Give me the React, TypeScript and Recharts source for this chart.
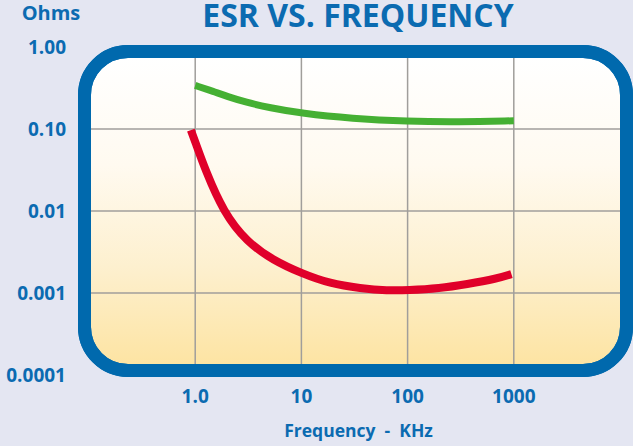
import * as React from "react";
import { LineChart, Line, XAxis, YAxis, ReferenceLine, Label } from "recharts";

const FONT = "'Open Sans', sans-serif";
const BLUE = "#0069ad";
const TEXT = "#0b6bb1";
const RED = "#e0002a";
const GREEN = "#45b033";
const GRID = "#a09e9b";

// ── Axes ─────────────────────────────────────────────────────────────────────

const yTicks = [0.0001, 0.001, 0.01, 0.1, 1];
const yTickLabels = ["0.0001", "0.001", "0.01", "0.10", "1.00"];
const xTicks = [1, 10, 100, 1000];
const xTickLabels = ["1.0", "10", "100", "1000"];
const gridX = [1, 10, 100, 1000];
const gridY = [0.1, 0.01, 0.001];

// ── Series (frequency in KHz, ESR in ohms) ───────────────────────────────────

const greenFreq = [1, 1.5, 2, 3, 5, 10, 30, 100, 300, 1000];
const greenEsr = [0.34, 0.285, 0.25, 0.212, 0.182, 0.155, 0.134, 0.124, 0.122, 0.126];

const redFreq = [0.91, 1.0, 1.24, 1.85, 3.06, 5.45, 10, 18.6, 36, 65, 100, 200, 360, 700, 950];
const redEsr = [
  0.097, 0.07, 0.032, 0.0096, 0.0042, 0.0025, 0.00174, 0.0013, 0.00114, 0.00107,
  0.00108, 0.00114, 0.00128, 0.0015, 0.0017,
];

const greenData = greenFreq.map((f, i) => ({ f, esr: greenEsr[i] }));
const redData = redFreq.map((f, i) => ({ f, esr: redEsr[i] }));

const frameBox: React.CSSProperties = {
  position: "absolute",
  left: 78,
  top: 45,
  width: 555,
  height: 332,
  boxSizing: "border-box",
  borderRadius: 50,
  border: `13px solid ${BLUE}`,
};

const tickStyle = { fill: TEXT, fontSize: 19, fontWeight: 700, fontFamily: FONT };

export default function App() {
  return (
    <div
      style={{
        position: "absolute",
        left: 0,
        top: 0,
        width: 633,
        height: 446,
        background: "#e4e6f2",
        overflow: "hidden",
        fontFamily: FONT,
      }}
    >
      <div
        style={{
          ...frameBox,
          background:
            "linear-gradient(to bottom, #ffffff 0%, #fffaf0 35%, #fdf0cf 68%, #fde4a3 100%)",
        }}
      />
      <div
        style={{
          position: "absolute",
          left: 158,
          top: 2,
          width: 400,
          textAlign: "center",
          fontSize: 32,
          lineHeight: 0.8,
          fontWeight: 700,
          color: TEXT,
          whiteSpace: "nowrap",
        }}
      >
        ESR VS. FREQUENCY
      </div>
      <div
        style={{
          position: "absolute",
          left: 1,
          top: 3,
          width: 100,
          textAlign: "center",
          fontSize: 20,
          lineHeight: 1,
          fontWeight: 700,
          color: TEXT,
        }}
      >
        Ohms
      </div>
      <div style={{ position: "absolute", left: 0, top: 0 }}>
        <LineChart width={633} height={446} margin={{ top: 47, right: 13, left: 0, bottom: 0 }}>
          <XAxis
            type="number"
            dataKey="f"
            scale="log"
            domain={[0.1, 10000]}
            ticks={xTicks}
            tickFormatter={(v: number) => xTickLabels[xTicks.indexOf(v)]}
            axisLine={false}
            tickLine={false}
            tickSize={0}
            tickMargin={15}
            height={71}
            interval={0}
            tick={tickStyle}
            allowDuplicatedCategory={false}
          >
            <Label
              value={"Frequency\u00a0\u00a0-\u00a0\u00a0KHz"}
              position="insideBottom"
              offset={9}
              dx={4}
              style={{ fill: TEXT, fontSize: 17.5, fontWeight: 700, fontFamily: FONT }}
            />
          </XAxis>
          <YAxis
            type="number"
            dataKey="esr"
            scale="log"
            domain={[0.0001, 1]}
            ticks={yTicks}
            tickFormatter={(v: number) => yTickLabels[yTicks.indexOf(v)]}
            axisLine={false}
            tickLine={false}
            tickSize={0}
            tickMargin={23}
            width={89}
            interval={0}
            tick={tickStyle}
          />
          {gridX.map((x) => (
            <ReferenceLine key={`x${x}`} x={x} stroke={GRID} strokeWidth={1.5} />
          ))}
          {gridY.map((y) => (
            <ReferenceLine key={`y${y}`} y={y} stroke={GRID} strokeWidth={1.5} />
          ))}
          <Line
            data={greenData}
            dataKey="esr"
            type="basis"
            stroke={GREEN}
            strokeWidth={7}
            dot={false}
            activeDot={false}
            isAnimationActive={false}
          />
          <Line
            data={redData}
            dataKey="esr"
            type="basis"
            stroke={RED}
            strokeWidth={8}
            dot={false}
            activeDot={false}
            isAnimationActive={false}
          />
        </LineChart>
      </div>
      <div style={{ ...frameBox, pointerEvents: "none" }} />
    </div>
  );
}
